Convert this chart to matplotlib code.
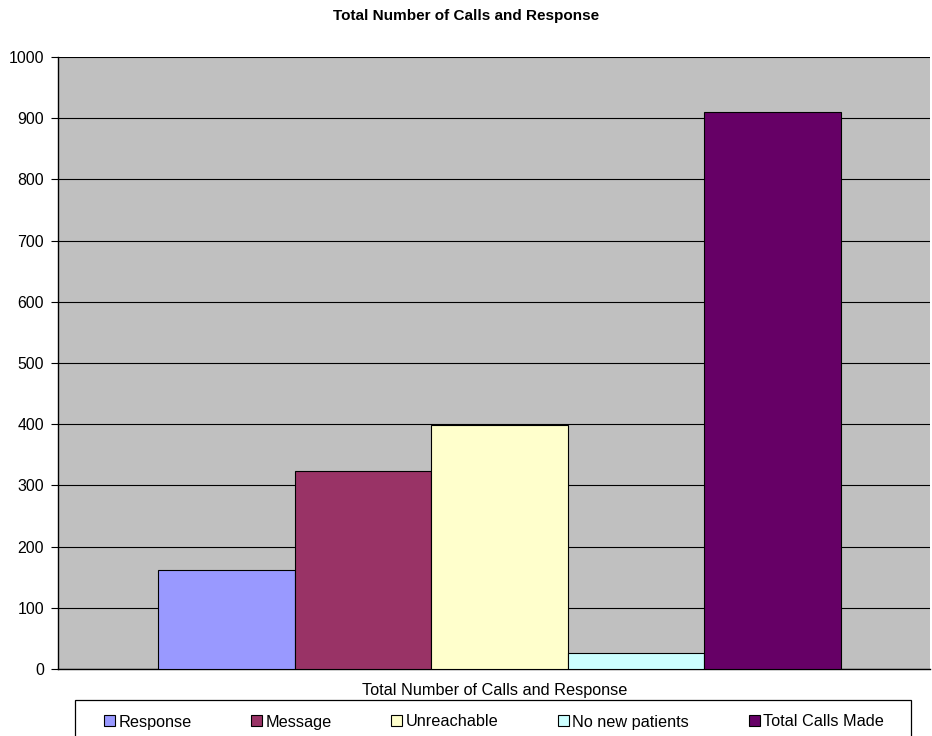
import matplotlib
matplotlib.use("Agg")
import matplotlib.pyplot as plt
from matplotlib.patches import Patch, Rectangle

plt.rcParams['font.family'] = ['Liberation Sans', 'DejaVu Sans']

series = ["Response", "Message", "Unreachable", "No new patients", "Total Calls Made"]
values = [161, 324, 398, 26, 910]
colors = ["#9999FF", "#993366", "#FFFFCC", "#CCFFFF", "#660066"]
title = "Total Number of Calls and Response"
category = "Total Number of Calls and Response"
yticks = [0, 100, 200, 300, 400, 500, 600, 700, 800, 900, 1000]

W, H = 932, 736
fig = plt.figure(figsize=(W/100, H/100), dpi=100)
ax = fig.add_axes([58/W, 1-669/H, (930-58)/W, (669-57)/H])
ax.set_facecolor("#C0C0C0")

xs = list(range(len(series)))
ax.bar(xs, values, width=1.0, color=colors, edgecolor="black", linewidth=0.8, zorder=3)

ax.set_xlim(-1.232, 5.152)
ax.set_ylim(0, 1000)
ax.set_yticks(yticks)
ax.set_yticklabels([str(t) for t in yticks], fontsize=11.4)
ax.set_xticks([])
ax.yaxis.grid(True, color="black", linewidth=0.8, zorder=0)
ax.set_axisbelow(True)
for s in ["top", "right"]:
    ax.spines[s].set_visible(False)
ax.spines["left"].set_linewidth(1.0)
ax.spines["bottom"].set_linewidth(1.0)
ax.tick_params(axis="y", direction="out", length=5, width=0.8, pad=5)

fig.text(466/W, 1-20/H, title, ha="center", va="baseline", fontsize=11, fontweight="bold")
fig.text(495/W, 1-695.5/H, category, ha="center", va="baseline", fontsize=11.7)

# legend box
fig.add_artist(Rectangle((75/W, 1-745/H), (911-75)/W, 45/H, transform=fig.transFigure,
                         facecolor="white", edgecolor="black", linewidth=0.9, zorder=1))

handles = [Patch(facecolor=c, edgecolor="black", linewidth=0.8) for c in colors]
leg = fig.legend(handles, series, loc="center",
                 bbox_to_anchor=(104/W, 1-730/H, (884-104)/W, 16/H),
                 mode="expand", ncol=5, fontsize=11.7, frameon=False,
                 handlelength=0.68, handleheight=0.68, handletextpad=0.2,
                 borderpad=0, borderaxespad=0)
leg.set_zorder(2)

fig.savefig("out.png", dpi=100)
